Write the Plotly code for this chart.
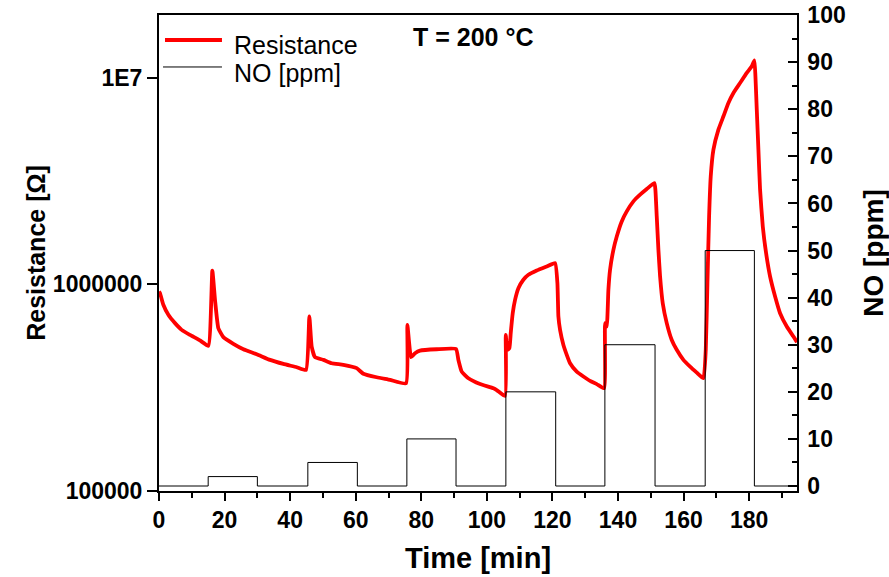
import math
import plotly.graph_objects as go

# Resistance curve (time in min, resistance in ohm)
time_res = [0.0, 0.31, 1.32, 2.85, 4.88, 6.91, 9.46, 12.51, 15.05,
            16.27, 17.08, 18.10, 19.63, 22.68, 25.73, 29.79, 33.86, 37.93, 42.0, 44.84,
            45.86, 46.57, 47.59, 50.13, 52.68, 56.23, 60.30, 62.33, 66.40, 70.47, 75.35,
            75.76, 76.88, 78.10, 79.62, 84.71, 90.60, 91.32, 92.33, 94.37, 97.93, 102.0, 103.0, 105.55,
            105.76, 106.26, 106.87, 107.28, 107.89, 108.60, 109.62, 111.14, 112.67, 115.21, 118.26, 120.81,
            121.52, 121.82, 122.33, 123.35, 124.37, 125.38, 127.42, 129.45, 131.48, 133.52, 135.75,
            136.06, 136.57, 137.07, 137.58, 138.60, 139.62, 141.14, 142.67, 144.70, 146.74, 148.77, 151.11,
            151.41, 151.82, 152.33, 152.84, 153.65, 154.87, 156.40, 157.92, 159.95, 161.99, 164.02, 166.06,
            166.77, 167.28, 167.79, 168.29, 169.11, 170.63, 172.16, 173.68, 175.21, 177.24, 179.28, 180.80, 181.61,
            181.92, 182.33, 182.83, 183.34, 184.16, 185.17, 186.39, 187.92, 189.44, 191.48, 193.51, 194.6]
res = [9.23e5, 9.06e5, 7.96e5, 7.12e5, 6.49e5, 6.02e5, 5.69e5, 5.35e5, 5.04e5,
       1.166e6, 8.41e5, 6.13e5, 5.55e5, 5.15e5, 4.85e5, 4.59e5, 4.31e5, 4.12e5, 3.97e5, 3.85e5,
       6.99e5, 5.0e5, 4.44e5, 4.31e5, 4.15e5, 4.08e5, 3.93e5, 3.69e5, 3.55e5, 3.45e5, 3.32e5,
       6.37e5, 4.44e5, 4.64e5, 4.78e5, 4.85e5, 4.87e5, 4.31e5, 3.78e5, 3.51e5, 3.29e5, 3.14e5, 3.08e5, 2.88e5,
       5.69e5, 4.82e5, 4.91e5, 5.80e5, 7.25e5, 8.41e5, 9.58e5, 1.052e6, 1.112e6, 1.166e6, 1.22e6, 1.266e6,
       1.013e6, 6.99e5, 6.02e5, 5.09e5, 4.56e5, 4.15e5, 3.78e5, 3.58e5, 3.41e5, 3.29e5, 3.14e5,
       6.49e5, 6.25e5, 9.41e5, 1.175e6, 1.469e6, 1.704e6, 2.015e6, 2.253e6, 2.518e6, 2.713e6, 2.89e6, 3.09e6,
       2.868e6, 2.13e6, 1.469e6, 1.091e6, 8.1e5, 6.49e5, 5.38e5, 4.82e5, 4.31e5, 4.0e5, 3.74e5, 3.51e5,
       4.82e5, 1.013e6, 2.13e6, 3.33e6, 4.48e6, 5.60e6, 6.50e6, 7.54e6, 8.43e6, 9.42e6, 1.054e7, 1.135e7, 1.213e7,
       1.015e7, 7.0e6, 4.48e6, 2.868e6, 1.905e6, 1.416e6, 1.091e6, 8.73e5, 7.25e5, 6.25e5, 5.59e5, 5.25e5]

# NO concentration steps (time in min, ppm)
time_no = [0.0, 15.0, 30.0, 45.4, 60.5, 75.6, 90.6, 105.8, 121.0, 136.0, 151.3, 166.6, 181.6, 194.6]
no_ppm = [0, 2, 0, 5, 0, 10, 0, 20, 0, 30, 0, 50, 0, 0]

x_ticks = [0, 20, 40, 60, 80, 100, 120, 140, 160, 180]
y_ticks = [1e5, 1e6, 1e7]
y_tick_text = ["100000", "1000000", "1E7"]
y_minor = [2e5, 3e5, 4e5, 5e5, 6e5, 7e5, 8e5, 9e5,
           2e6, 3e6, 4e6, 5e6, 6e6, 7e6, 8e6, 9e6, 2e7]
y2_ticks = [0, 10, 20, 30, 40, 50, 60, 70, 80, 90, 100]

FONT = "Liberation Sans, Arial, sans-serif"

fig = go.Figure()
fig.add_trace(go.Scatter(x=time_res, y=res, mode="lines", name="Resistance",
                         line=dict(color="#ff0000", width=3.8, shape="spline", smoothing=0.4),
                         yaxis="y"))
fig.add_trace(go.Scatter(x=time_no, y=no_ppm, mode="lines", name="NO [ppm]",
                         line=dict(color="black", width=1, shape="hv"), yaxis="y2"))

# manual legend (line samples) in paper coordinates
shapes = [
    dict(type="line", xref="paper", yref="paper", x0=0.0094, x1=0.0987, y0=0.9475, y1=0.9475,
         line=dict(color="#ff0000", width=3.8)),
    dict(type="line", xref="paper", yref="paper", x0=0.0063, x1=0.0987, y0=0.8908, y1=0.8908,
         line=dict(color="black", width=1)),
]
# minor ticks of the left log axis, placed on the axis scale (log units for shapes on log axes)
for v in y_minor:
    lv = math.log10(v)
    shapes.append(dict(type="line", xref="paper", yref="y", x0=-0.0094, x1=0.0, y0=lv, y1=lv,
                       line=dict(color="black", width=1.5), layer="above"))

annotations = [
    dict(text="Resistance", xref="paper", yref="paper", x=0.1144, y=0.937, xanchor="left",
         yanchor="middle", showarrow=False, font=dict(size=25, family=FONT, color="black")),
    dict(text="NO [ppm]", xref="paper", yref="paper", x=0.1144, y=0.878, xanchor="left",
         yanchor="middle", showarrow=False, font=dict(size=25, family=FONT, color="black")),
    dict(text="<b>T = 200 °C</b>", xref="paper", yref="paper", x=0.492, y=0.954,
         xanchor="center", yanchor="middle", showarrow=False,
         font=dict(size=25, family=FONT, color="black")),
]

fig.update_layout(
    width=889, height=577,
    margin=dict(l=159, r=92, t=15, b=86),
    paper_bgcolor="white", plot_bgcolor="white",
    font=dict(family=FONT, color="black"),
    showlegend=False,
    shapes=shapes,
    annotations=annotations,
    xaxis=dict(range=[0, 194.6], tickvals=x_ticks, ticks="outside", ticklen=8, tickwidth=1.5,
               tickcolor="black", showline=True, linecolor="black", linewidth=1.5, mirror=True,
               showgrid=False, zeroline=False, automargin=False,
               tickfont=dict(size=23, family=FONT, weight="bold"),
               minor=dict(dtick=10, ticks="outside", ticklen=5, tickwidth=1.5, tickcolor="black"),
               title=dict(text="<b>Time [min]</b>", font=dict(size=29, family=FONT), standoff=15)),
    yaxis=dict(type="log", range=[5, 7.303], tickvals=y_ticks, ticktext=y_tick_text,
               ticks="outside", ticklen=10, tickwidth=1.5, tickcolor="black",
               showline=True, linecolor="black", linewidth=2, showgrid=False, zeroline=False,
               automargin=False,
               tickfont=dict(size=23, family=FONT, weight="bold"),
               title=dict(text="<b>Resistance [Ω]</b>", font=dict(size=25, family=FONT), standoff=0)),
    yaxis2=dict(overlaying="y", side="right", range=[-1.06, 100.02], tickvals=y2_ticks,
                ticks="inside", ticklen=9, tickwidth=1.5, tickcolor="black",
                showline=True, linecolor="black", linewidth=1.5, showgrid=False, zeroline=False,
                automargin=False, ticklabelstandoff=4, ticklabeloverflow="allow",
                tickfont=dict(size=23, family=FONT, weight="bold"),
                minor=dict(dtick=5, ticks="inside", ticklen=5, tickwidth=1.5, tickcolor="black"),
                title=dict(text="<b>NO [ppm]</b>", font=dict(size=28, family=FONT), standoff=19)),
)

# remove the default page margin so the figure sits at the window's top-left corner
fig.write_html("out.html", config={"displayModeBar": False},
               post_script="document.body.style.margin='0';")
